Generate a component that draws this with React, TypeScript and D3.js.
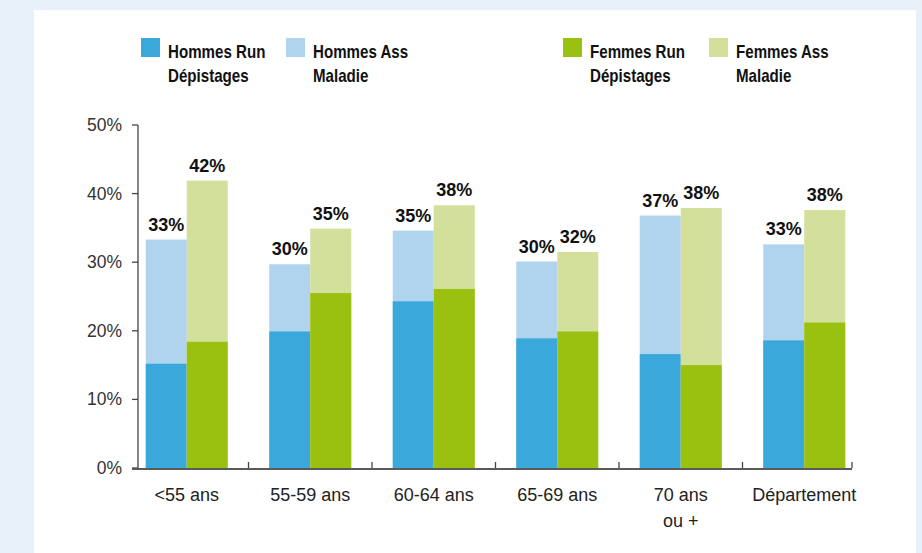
import React from "react";
import * as d3 from "d3";

const categories = ["<55 ans", "55-59 ans", "60-64 ans", "65-69 ans", "70 ans\nou +", "Département"];
const hommesRun = [15.2, 19.9, 24.3, 18.9, 16.6, 18.6];
const hommesAss = [33.3, 29.7, 34.6, 30.1, 36.8, 32.6];
const femmesRun = [18.4, 25.5, 26.1, 19.9, 15.0, 21.2];
const femmesAss = [41.9, 34.9, 38.3, 31.5, 37.9, 37.6];
const yTicks = [0, 10, 20, 30, 40, 50];
const legendItems = [
  { lines: ["Hommes Run", "Dépistages"], color: "#3aa8da" },
  { lines: ["Hommes Ass", "Maladie"], color: "#b1d4ee" },
  { lines: ["Femmes Run", "Dépistages"], color: "#9ac10f" },
  { lines: ["Femmes Ass", "Maladie"], color: "#d2e09c" },
];
const legendX = [141, 286, 563, 709];

const W = 922;
const H = 553;
const COLORS = { hRun: "#3aa8da", hAss: "#b1d4ee", fRun: "#9ac10f", fAss: "#d2e09c" };

export default function App() {
  const x0 = d3.scaleBand<string>().domain(categories).range([125, 866]).paddingInner(0.336).paddingOuter(0.168);
  const x1 = d3.scaleBand<string>().domain(["H", "F"]).range([0, x0.bandwidth()]);
  const y = d3.scaleLinear().domain([0, 50]).range([468, 125]);
  const axisX = 138;
  const axisEnd = 852;
  const step = x0.step();
  const sans = "'Liberation Sans', Arial, Helvetica, sans-serif";

  const fmt = (v: number) => `${Math.round(v)}%`;

  return (
    <div style={{ position: "absolute", left: 0, top: 0, width: W, height: H }}>
      <svg width={W} height={H} style={{ display: "block" }}>
        <rect x={0} y={0} width={W} height={H} fill="#e8f1f9" />
        <rect x={34} y={10} width={882} height={H - 10} fill="#ffffff" />

        {/* legend */}
        {legendItems.map((it, i) => (
          <g key={i} transform={`translate(${legendX[i]},0)`}>
            <rect x={0} y={38} width={19} height={19} fill={it.color} />
            <g transform="translate(27,0) scale(0.84,1)">
              {it.lines.map((l, j) => (
                <text key={j} x={0} y={58 + j * 24} fontFamily={sans} fontWeight="bold" fontSize={18} fill="#111">
                  {l}
                </text>
              ))}
            </g>
          </g>
        ))}

        {/* bars */}
        {categories.map((c, i) => {
          const gx = x0(c)!;
          const hx = gx + x1("H")!;
          const fx = gx + x1("F")!;
          const bw = x1.bandwidth();
          return (
            <g key={c}>
              <rect x={hx} y={y(hommesAss[i])} width={bw} height={y(0) - y(hommesAss[i])} fill={COLORS.hAss} />
              <rect x={hx} y={y(hommesRun[i])} width={bw} height={y(0) - y(hommesRun[i])} fill={COLORS.hRun} />
              <rect x={fx} y={y(femmesAss[i])} width={bw} height={y(0) - y(femmesAss[i])} fill={COLORS.fAss} />
              <rect x={fx} y={y(femmesRun[i])} width={bw} height={y(0) - y(femmesRun[i])} fill={COLORS.fRun} />
              <text x={hx + bw / 2} y={y(hommesAss[i]) - 9} textAnchor="middle" fontFamily={sans} fontWeight="bold" fontSize={18} fill="#111">
                {fmt(hommesAss[i])}
              </text>
              <text x={fx + bw / 2} y={y(femmesAss[i]) - 9} textAnchor="middle" fontFamily={sans} fontWeight="bold" fontSize={18} fill="#111">
                {fmt(femmesAss[i])}
              </text>
            </g>
          );
        })}

        {/* y axis */}
        <line x1={axisX} x2={axisX} y1={y(50)} y2={y(0)} stroke="#444" strokeWidth={1.3} />
        {yTicks.map((t) => (
          <g key={t}>
            <line x1={axisX - 6} x2={axisX} y1={y(t)} y2={y(t)} stroke="#444" strokeWidth={1.3} />
            <text x={axisX - 16} y={y(t) + 6} textAnchor="end" fontFamily={sans} fontSize={17.5} fill="#333">
              {`${t}%`}
            </text>
          </g>
        ))}

        {/* x axis */}
        <line x1={axisX - 6} x2={axisEnd} y1={y(0) + 1} y2={y(0) + 1} stroke="#5a5a5a" strokeWidth={2} />
        {categories.map((c, i) => {
          const tx = i < categories.length - 1 ? x0(c)! + x0.bandwidth() / 2 + step / 2 : axisEnd;
          return <line key={c} x1={tx} x2={tx} y1={y(0) - 6} y2={y(0)} stroke="#444" strokeWidth={1.3} />;
        })}
        {categories.map((c) => {
          const cx = x0(c)! + x0.bandwidth() / 2;
          return (
            <text key={c} textAnchor="middle" fontFamily={sans} fontSize={18} fill="#222">
              {c.split("\n").map((l, j) => (
                <tspan key={j} x={cx} y={501 + j * 26}>
                  {l}
                </tspan>
              ))}
            </text>
          );
        })}
      </svg>
    </div>
  );
}
